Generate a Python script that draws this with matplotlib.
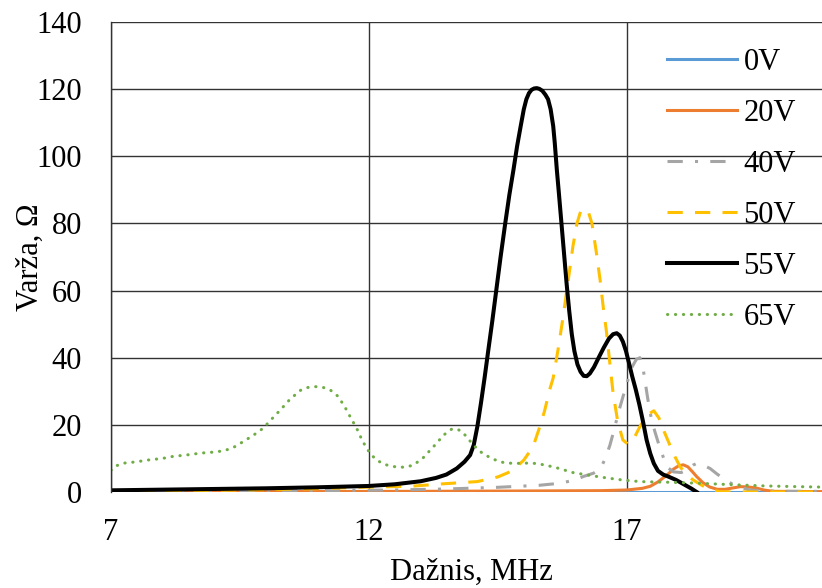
import matplotlib
matplotlib.use("Agg")
import matplotlib.pyplot as plt

plt.rcParams["font.family"] = ["Liberation Serif", "DejaVu Serif"]

# --------------------------------------------------------
#  Reactance vs frequency for each bias voltage
# --------------------------------------------------------

f_0v = [7.0, 10.0, 13.0, 16.0, 19.0, 21.0]
x_0v = [0, 0, 0, 0, 0, 0]

f_20v = [7.0, 10.0, 13.0, 15.0, 16.5, 17.0, 17.3, 17.45, 17.6, 17.77, 17.9, 18.0,
         18.09, 18.18, 18.27, 18.35, 18.47, 18.6, 18.75, 18.9, 19.05, 19.2, 19.35,
         19.5, 19.65, 19.83, 21.0]
x_20v = [0.1, 0.1, 0.2, 0.3, 0.4, 0.6, 1.1, 1.7, 3.0, 5.0, 6.8, 7.8,
         8.1, 7.5, 6.0, 4.6, 2.8, 1.5, 0.8, 0.8, 1.2, 1.6, 1.5,
         1.2, 0.6, 0.2, 0.1]

f_40v = [7.0, 9.0, 11.0, 12.5, 13.5, 14.5, 15.3, 15.7, 16.0, 16.15, 16.35, 16.48,
         16.58, 16.67, 16.75, 16.83, 16.96, 17.09, 17.18, 17.25, 17.32, 17.4, 17.47,
         17.54, 17.62, 17.7, 17.77, 17.9, 18.05, 18.16, 18.28, 18.35, 18.45, 18.61,
         18.75, 18.93, 19.1, 19.38, 19.7, 20.2, 21.0]
x_40v = [0.1, 0.2, 0.4, 0.6, 0.9, 1.4, 2.0, 2.6, 3.6, 4.6, 5.6, 6.8,
         10.0, 14.0, 18.5, 23.5, 30.4, 37.0, 39.5, 40.0, 36.0, 28.0, 22.0,
         18.0, 14.0, 10.5, 7.5, 6.0, 5.8, 6.5, 8.0, 8.5, 8.2, 7.0,
         5.3, 3.4, 1.8, 0.6, 0.3, 0.2, 0.2]

f_50v = [7.0, 8.0, 9.0, 10.0, 11.0, 11.83, 12.8, 13.4, 14.1, 14.5, 14.7, 14.86,
         15.0, 15.18, 15.3, 15.4, 15.5, 15.57, 15.67, 15.77, 15.86, 15.95, 16.03,
         16.1, 16.17, 16.25, 16.32, 16.4, 16.48, 16.54, 16.6, 16.67, 16.73, 16.82,
         16.92, 17.02, 17.12, 17.25, 17.4, 17.52, 17.62, 17.72, 17.83, 17.93, 18.03,
         18.15, 18.28, 18.45, 18.6, 18.8, 19.5, 21.0]
x_50v = [0.2, 0.3, 0.5, 0.7, 1.0, 1.4, 1.7, 2.4, 3.1, 4.5, 5.8, 7.5,
         9.5, 13.5, 19.0, 24.0, 30.4, 34.0, 43.0, 53.0, 63.0, 73.0, 80.0,
         83.5, 84.5, 83.5, 80.0, 72.0, 63.0, 55.0, 48.0, 38.0, 29.5, 21.0,
         15.5, 14.2, 15.5, 19.5, 23.0, 24.2, 22.0, 18.0, 14.0, 10.5, 7.5,
         5.2, 3.6, 2.0, 0.8, 0.1, 0.0, 0.0]

f_55v = [7.0, 8.0, 9.0, 10.0, 11.0, 12.0, 12.5, 13.0, 13.3, 13.5, 13.7, 13.85,
         13.96, 14.03, 14.1, 14.17, 14.24, 14.31, 14.39, 14.47, 14.55, 14.64, 14.72,
         14.8, 14.87, 14.94, 15.0, 15.05, 15.1, 15.15, 15.2, 15.25, 15.3, 15.36,
         15.42, 15.47, 15.52, 15.57, 15.6, 15.64, 15.68, 15.73, 15.78, 15.83, 15.88,
         15.93, 15.98, 16.04, 16.1, 16.16, 16.22, 16.28, 16.36, 16.45, 16.55, 16.65,
         16.73, 16.8, 16.86, 16.92, 16.98, 17.04, 17.1, 17.17, 17.24, 17.31, 17.38,
         17.45, 17.52, 17.6, 17.7, 17.8, 17.95, 18.1, 18.25, 18.35]
x_55v = [0.5, 0.7, 0.9, 1.1, 1.4, 1.8, 2.3, 3.2, 4.2, 5.2, 7.0, 9.0,
         11.0, 14.0, 19.5, 26.5, 34.0, 42.0, 51.0, 60.5, 70.0, 80.0, 88.5,
         96.0, 103.0, 109.0, 114.0, 117.0, 118.8, 119.8, 120.2, 120.3, 120.1, 119.5,
         118.3, 117.0, 114.0, 109.0, 104.0, 96.0, 89.0, 80.0, 71.0, 62.0, 54.0,
         47.0, 42.0, 38.0, 35.8, 34.6, 34.5, 35.3, 37.2, 40.0, 43.0, 45.7,
         47.0, 47.3, 46.6, 44.8, 42.0, 38.3, 34.5, 30.5, 26.0, 21.0, 15.5,
         11.5, 8.5, 6.3, 5.2, 4.6, 3.6, 2.3, 1.0, 0.0]

f_65v = [7.0, 7.1, 7.25, 7.5, 7.7, 8.0, 8.2, 8.5, 8.75, 9.0, 9.2, 9.4,
         9.56, 9.75, 9.95, 10.1, 10.28, 10.45, 10.66, 10.8, 10.95, 11.1, 11.24,
         11.4, 11.53, 11.65, 11.76, 11.85, 11.95, 12.05, 12.15, 12.3, 12.54, 12.7,
         12.86, 13.05, 13.25, 13.45, 13.6, 13.7, 13.8, 13.9, 14.02, 14.2, 14.4,
         14.6, 14.8, 15.05, 15.25, 15.45, 15.64, 15.95, 16.3, 16.6, 16.9, 17.25,
         17.8, 18.4, 19.0, 19.7, 20.3, 21.0]
x_65v = [6.5, 7.8, 8.6, 9.0, 9.5, 10.0, 10.6, 11.1, 11.6, 11.9, 12.3, 13.5,
         15.0, 16.8, 19.0, 21.5, 24.4, 27.3, 30.2, 31.1, 31.4, 31.2, 30.5,
         28.5, 25.4, 22.0, 19.0, 16.0, 13.1, 11.0, 9.5, 8.2, 7.4, 7.4,
         8.0, 10.2, 13.5, 17.0, 18.7, 18.8, 18.0, 16.3, 14.0, 11.5, 9.8,
         8.8, 8.5, 8.6, 8.5, 7.9, 7.2, 5.8, 4.9, 4.2, 3.6, 3.1,
         2.9, 2.6, 2.2, 1.8, 1.6, 1.4]

labels = ["0V", "20V", "40V", "50V", "55V", "65V"]
x_ticks = [7, 12, 17]
y_ticks = [0, 20, 40, 60, 80, 100, 120, 140]

# --------------------------------------------------------
#  Figure
# --------------------------------------------------------

W, H = 822, 588
fig = plt.figure(figsize=(W / 100, H / 100), dpi=100)
# axis runs 7..21 MHz, right end falls just past the canvas edge
ax = fig.add_axes([111 / W, 96 / H, 722.4 / W, 470 / H])

series = [
    (f_0v,  x_0v,  dict(color="#5B9BD5", lw=2.2, ls="-")),
    (f_20v, x_20v, dict(color="#ED7D31", lw=2.2, ls="-")),
    (f_40v, x_40v, dict(color="#A5A5A5", lw=2.2, ls=(0, (5, 4, 1, 4)))),
    (f_50v, x_50v, dict(color="#FFC000", lw=2.2, ls=(0, (5, 4)))),
    (f_55v, x_55v, dict(color="black",   lw=2.9, ls="-")),
    (f_65v, x_65v, dict(color="#70AD47", lw=2.2, ls=(0, (0.1, 2.5)),
                        dash_capstyle="round")),
]
for (f, x, style), lab in zip(series, labels):
    ax.plot(f, x, label=lab, solid_joinstyle="round", **style)

ax.set_xlim(7, 21)
ax.set_ylim(0, 140)
ax.set_xticks(x_ticks)
ax.set_yticks(y_ticks)
ax.grid(True, color="#333333", lw=1.0)
ax.set_axisbelow(True)
for side in ("top", "right", "bottom"):
    ax.spines[side].set_visible(False)
ax.spines["left"].set_color("#333333")
ax.spines["left"].set_linewidth(1.0)
ax.tick_params(axis="both", length=0, labelsize=22)
ax.tick_params(axis="y", pad=21)
ax.tick_params(axis="x", pad=19)

fig.text(471 / W, (H - 580) / H, "Dažnis, MHz", fontsize=22,
         ha="center", va="baseline")
fig.text(30 / W, 1 - 257 / H, "Varža, Ω", fontsize=22, rotation=90,
         ha="center", va="center")

fig.legend(loc="upper left", bbox_to_anchor=(667 / W, 1 - 48 / H),
           frameon=False, fontsize=22, borderpad=0, borderaxespad=0,
           handlelength=2.3, handletextpad=0.2, labelspacing=0.72)

fig.savefig("out.png", dpi=100)
